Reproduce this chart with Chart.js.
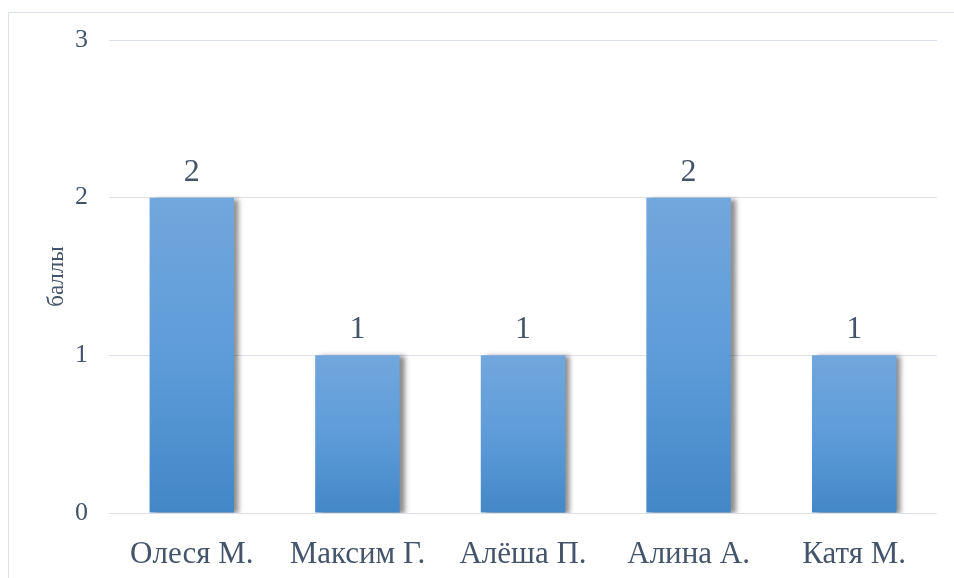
<!DOCTYPE html>
<html>
<head>
<meta charset="utf-8">
<script src="https://cdn.jsdelivr.net/npm/chart.js@4/dist/chart.umd.min.js"></script>
<style>
  html, body { margin: 0; padding: 0; background: #fff; }
  #wrap { width: 954px; height: 578px; position: relative; }
</style>
</head>
<body>
<div id="wrap"><canvas id="myBarChart"></canvas></div>
<script>
// chart data
var categories = ['Олеся М.', 'Максим Г.', 'Алёша П.', 'Алина А.', 'Катя М.'];
var scores = [2, 1, 1, 2, 1];
var yTicks = [0, 1, 2, 3];
var yTitle = 'баллы';

var textColor = '#44546A';
var fontFamily = '"Liberation Serif", "Times New Roman", serif';

// frame around the chart, like the office export
var framePlugin = {
    id: 'frame',
    beforeDraw: function (chart) {
        var c = chart.ctx;
        c.save();
        c.strokeStyle = '#DCE1E8';
        c.lineWidth = 1;
        c.strokeRect(8.5, 12.5, 1000, 700);
        c.restore();
    }
};

// soft shadow on the right side of bars
var shadowPlugin = {
    id: 'barShadow',
    beforeDatasetDraw: function (chart) {
        var c = chart.ctx;
        c.save();
        c.shadowColor = 'rgba(0,0,0,0.45)';
        c.shadowBlur = 5;
        c.shadowOffsetX = 5;
        c.shadowOffsetY = 1;
    },
    afterDatasetDraw: function (chart) {
        chart.ctx.restore();
    }
};

// value labels above bars
var labelPlugin = {
    id: 'valueLabels',
    afterDatasetsDraw: function (chart) {
        var c = chart.ctx;
        var meta = chart.getDatasetMeta(0);
        c.save();
        c.fillStyle = textColor;
        c.font = '32px ' + fontFamily;
        c.textAlign = 'center';
        c.textBaseline = 'alphabetic';
        meta.data.forEach(function (bar, i) {
            c.fillText(String(scores[i]), bar.x, bar.y - 17);
        });
        c.restore();
    }
};

var ctx = document.getElementById('myBarChart').getContext('2d');
var chart = new Chart(ctx, {
    type: 'bar',
    data: {
        labels: categories,
        datasets: [{
            data: scores,
            barPercentage: 0.51,
            categoryPercentage: 1,
            borderWidth: 0,
            backgroundColor: function (context) {
                var ch = context.chart;
                var area = ch.chartArea;
                if (!area) return '#5B9BD5';
                var top = ch.scales.y.getPixelForValue(scores[context.dataIndex]);
                var g = ch.ctx.createLinearGradient(0, top, 0, area.bottom);
                g.addColorStop(0, '#71A7DC');
                g.addColorStop(0.5, '#5E9CD9');
                g.addColorStop(1, '#4387C7');
                return g;
            }
        }]
    },
    options: {
        responsive: true,
        maintainAspectRatio: false,
        animation: false,
        layout: {
            padding: { left: 40, right: 17, top: 40, bottom: 0 }
        },
        scales: {
            x: {
                grid: { display: false, drawTicks: false },
                border: { display: false },
                ticks: {
                    color: textColor,
                    padding: 23,
                    font: { family: fontFamily, size: 31 }
                },
                afterFit: function (scale) { scale.height = 65; }
            },
            y: {
                min: 0,
                max: yTicks[yTicks.length - 1],
                afterBuildTicks: function (scale) {
                    scale.ticks = yTicks.map(function (v) { return { value: v }; });
                },
                grid: { color: '#DCE1E8', lineWidth: 1, drawTicks: false },
                border: { display: false },
                ticks: {
                    color: textColor,
                    padding: 21,
                    font: { family: fontFamily, size: 26 }
                },
                title: {
                    display: true,
                    text: yTitle,
                    color: textColor,
                    padding: { top: 3, bottom: 0 },
                    font: { family: fontFamily, size: 23 }
                },
                afterFit: function (scale) { scale.width = 69; }
            }
        },
        plugins: {
            legend: { display: false },
            tooltip: { enabled: false }
        }
    },
    plugins: [framePlugin, shadowPlugin, labelPlugin]
});
</script>
</body>
</html>
